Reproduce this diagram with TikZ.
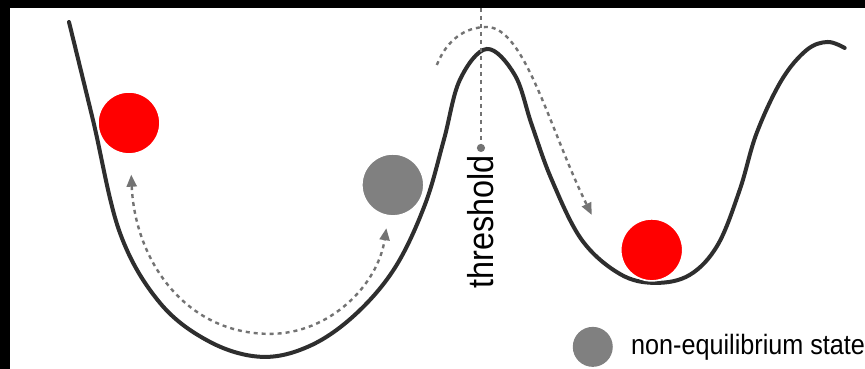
\documentclass[tikz,border=0pt]{standalone}
\usepackage{fontspec}
\setmainfont{Liberation Sans}
\newfontfamily\narrowsans[FakeStretch=0.9]{Liberation Sans}
\usetikzlibrary{arrows.meta}

\begin{document}
\begin{tikzpicture}[x=0.5pt, y=-0.5pt,
      ball/.style={circle, draw=white, line width=0.8pt, inner sep=0pt,
                   minimum size=31pt},
      hot/.style={ball, fill=red},
      cold/.style={ball, fill=gray},
      well/.style={line width=2pt, color=black!82, line cap=round},
      flow/.style={line width=1.2pt, color=black!55, dash pattern=on 2pt off 2pt},
      arr/.style={-{Triangle[length=6pt,width=5pt]}},
      dbl/.style={{Triangle[length=6pt,width=5pt]}-{Triangle[length=6pt,width=5pt]}},
      lbl/.style={inner sep=0pt, font=\narrowsans\fontsize{14}{16}\selectfont}
  ]
    % frame
    \fill[black] (0,0) rectangle (865,369);
    \fill[white] (10,8) rectangle (865,369);

    % energy landscape
    \draw[well] plot[smooth, tension=0.6] coordinates {
      (69,22) (93,120) (120,233) (160,303) (210,342) (262,357)
      (310,346) (355,315) (395,268) (425,205) (444,140) (460,80)
      (487,49) (515,75) (532,125) (552,180) (582,240) (620,274)
      (655,283) (690,275) (718,245) (740,190) (757,133) (782,80)
      (807,50) (828,42) (845,48)};

    % states
    \node[hot]  (hotL) at (129,123) {};
    \node[cold] (neq)  at (393,185) {};
    \node[hot]  (hotR) at (652,250) {};

    % threshold
    \node[lbl, font=\narrowsans\fontsize{18}{20}\selectfont, rotate=90,
          anchor=base east] (thr) at (494,155) {threshold};
    \coordinate (thrtop) at (thr.east |- 0,8);
    \draw[flow, -{Circle[length=4pt]}, shorten >=1.5pt] (thrtop) -- (thr.east);

    % relaxation paths
    \draw[flow, dbl, shorten <=10pt, shorten >=6pt]
      (hotL) .. controls (135,260) and (185,334) .. (270,334)
             .. controls (330,334) and (378,285) .. (neq);
    \coordinate (arcL) at (437,65);
    \coordinate (arcT) at (487,27);
    \coordinate (arcR) at (592,215);
    \draw[flow, arr] (arcL) .. controls (447,40) and (465,27) .. (arcT)
                            .. controls (525,27) and (550,130) .. (arcR);

    % legend
    \node[cold, draw=none, minimum size=20pt] (key) at (593,347) {};
    \node[lbl, anchor=base west] (keytxt) at (631,355) {non-equilibrium state};
\end{tikzpicture}
\end{document}
